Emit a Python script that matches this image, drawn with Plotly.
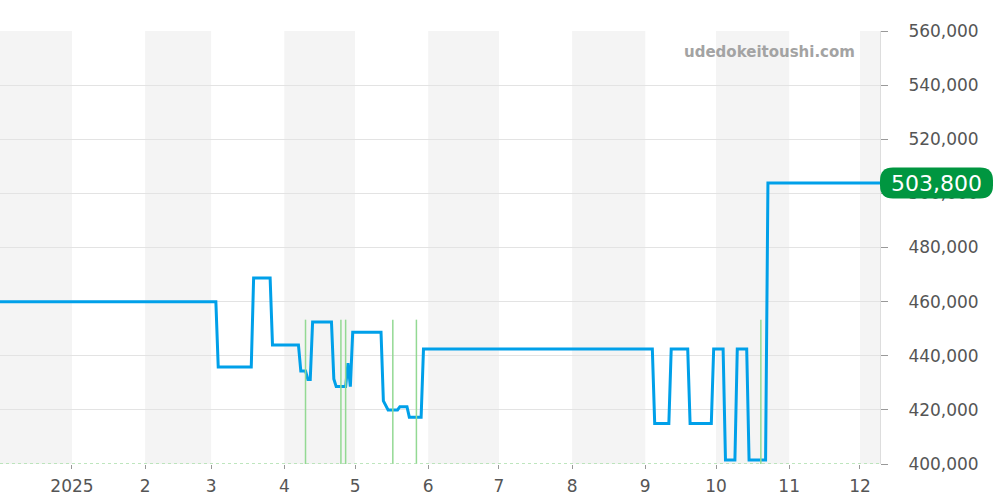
import plotly.graph_objects as go

# ---- data ----
price_dates = [
    "2024-12-01", "2025-03-03", "2025-03-04", "2025-03-18", "2025-03-19",
    "2025-03-26", "2025-03-27", "2025-04-07", "2025-04-08", "2025-04-10",
    "2025-04-11", "2025-04-12", "2025-04-13", "2025-04-21", "2025-04-22",
    "2025-04-23", "2025-04-27", "2025-04-28", "2025-04-29", "2025-04-30",
    "2025-05-12", "2025-05-13", "2025-05-15", "2025-05-19", "2025-05-20",
    "2025-05-23", "2025-05-24", "2025-05-29", "2025-05-30", "2025-09-04",
    "2025-09-05", "2025-09-11", "2025-09-12", "2025-09-19", "2025-09-20",
    "2025-09-29", "2025-09-30", "2025-10-04", "2025-10-05", "2025-10-09",
    "2025-10-10", "2025-10-14", "2025-10-15", "2025-10-22", "2025-10-23",
    "2025-12-09 12:00",
]
price_values = [
    460000, 460000, 435800, 435800, 468700,
    468700, 444000, 444000, 434400, 434400,
    431200, 431200, 452500, 452500, 431400,
    428600, 428600, 437300, 428600, 448700,
    448700, 423300, 420000, 420000, 421200,
    421200, 417300, 417300, 442500, 442500,
    415000, 415000, 442500, 442500, 415000,
    415000, 442500, 442500, 401500, 401500,
    442500, 442500, 401500, 401500, 503800,
    503800,
]
volume_dates = ["2025-04-10", "2025-04-25", "2025-04-27", "2025-05-17", "2025-05-27", "2025-10-20"]
volume_values = [1, 1, 1, 1, 1, 1]

shaded_month_starts = ["2024-12-01", "2025-02-01", "2025-04-01", "2025-06-01", "2025-08-01", "2025-10-01", "2025-12-01"]
shaded_month_ends = ["2025-01-01", "2025-03-01", "2025-05-01", "2025-07-01", "2025-09-01", "2025-11-01", "2026-01-01"]

tick_dates = ["2025-01-01", "2025-02-01", "2025-03-01", "2025-04-01", "2025-05-01", "2025-06-01",
              "2025-07-01", "2025-08-01", "2025-09-01", "2025-10-01", "2025-11-01", "2025-12-01"]
tick_labels = ["2025", "2", "3", "4", "5", "6", "7", "8", "9", "10", "11", "12"]

y_ticks = [400000, 420000, 440000, 460000, 480000, 500000, 520000, 540000, 560000]

x_start = "2024-12-01 12:00"
x_end = "2025-12-09 12:00"
last_price = price_values[-1]

FONT = "DejaVu Sans"
LINE_BLUE = "#00a0e9"
VOL_GREEN = "#93d993"
LABEL_GREEN = "#009640"

fig = go.Figure()

# volume lines (secondary axis)
vx, vy = [], []
for d, v in zip(volume_dates, volume_values):
    vx += [d, d, None]
    vy += [0, v, None]
fig.add_trace(go.Scatter(x=vx, y=vy, mode="lines", yaxis="y2",
                         line=dict(color=VOL_GREEN, width=1.5), hoverinfo="skip"))
fig.add_trace(go.Scatter(x=[x_start, x_end], y=[0, 0], mode="lines", yaxis="y2",
                         line=dict(color="#a9dea9", width=1.5, dash="dot"), hoverinfo="skip"))

# price line
fig.add_trace(go.Scatter(x=price_dates, y=price_values, mode="lines",
                         line=dict(color=LINE_BLUE, width=3), yaxis="y"))

shapes = []
for s, e in zip(shaded_month_starts, shaded_month_ends):
    shapes.append(dict(type="rect", xref="x", yref="paper", x0=s, x1=e, y0=0, y1=1,
                       fillcolor="#f4f4f4", line=dict(width=0), layer="below"))

# pill label
w, h, r = 113, 31, 13
path = (f"M {r},{-h/2} L {w-r},{-h/2} Q {w},{-h/2} {w},{-h/2+r} L {w},{h/2-r} "
        f"Q {w},{h/2} {w-r},{h/2} L {r},{h/2} Q 0,{h/2} 0,{h/2-r} L 0,{-h/2+r} "
        f"Q 0,{-h/2} {r},{-h/2} Z")
shapes.append(dict(type="path", xref="paper", yref="y", xsizemode="pixel", ysizemode="pixel",
                   xanchor=1, yanchor=last_price, path=path,
                   fillcolor=LABEL_GREEN, line=dict(width=0), layer="above"))

fig.update_layout(
    width=1000, height=500,
    margin=dict(l=0, r=120, t=31, b=36, autoexpand=False),
    paper_bgcolor="white", plot_bgcolor="white",
    showlegend=False,
    shapes=shapes,
    font=dict(family=FONT, color="#555555"),
    xaxis=dict(
        type="date", range=[x_start, x_end], automargin=False,
        tickvals=tick_dates, ticktext=tick_labels,
        ticks="outside", ticklen=4, tickcolor="#999999",
        ticklabelstandoff=3,
        tickfont=dict(size=17, color="#555555"),
        showgrid=False, zeroline=False, showline=False,
    ),
    yaxis=dict(
        side="right", range=[400000, 560000], automargin=False,
        tickvals=y_ticks, tickformat=",d",
        ticks="outside", ticklen=7, tickcolor="#999999",
        ticklabelstandoff=17,
        tickfont=dict(size=17, color="#555555"),
        showgrid=True, gridcolor="#e3e3e3", gridwidth=1,
        showline=True, linecolor="#dddddd", linewidth=1,
        zeroline=False,
    ),
    yaxis2=dict(overlaying="y", range=[0, 3], visible=False, showgrid=False, automargin=False),
    annotations=[
        dict(xref="paper", yref="paper", x=857/880, y=(464-52)/433, xanchor="right", yanchor="middle",
             text="<b>udedokeitoushi.com</b>", showarrow=False,
             font=dict(family=FONT, size=15, color="#a3a3a3")),
        dict(xref="paper", yref="y", x=1 + 56.5/880, y=last_price, xanchor="center", yanchor="middle",
             text=f"{last_price:,}", showarrow=False,
             font=dict(family=FONT, size=22, color="white")),
    ],
)

fig.write_html("out.html", config={"displayModeBar": False},
               post_script="document.body.style.margin='0';document.body.style.overflow='hidden';")
